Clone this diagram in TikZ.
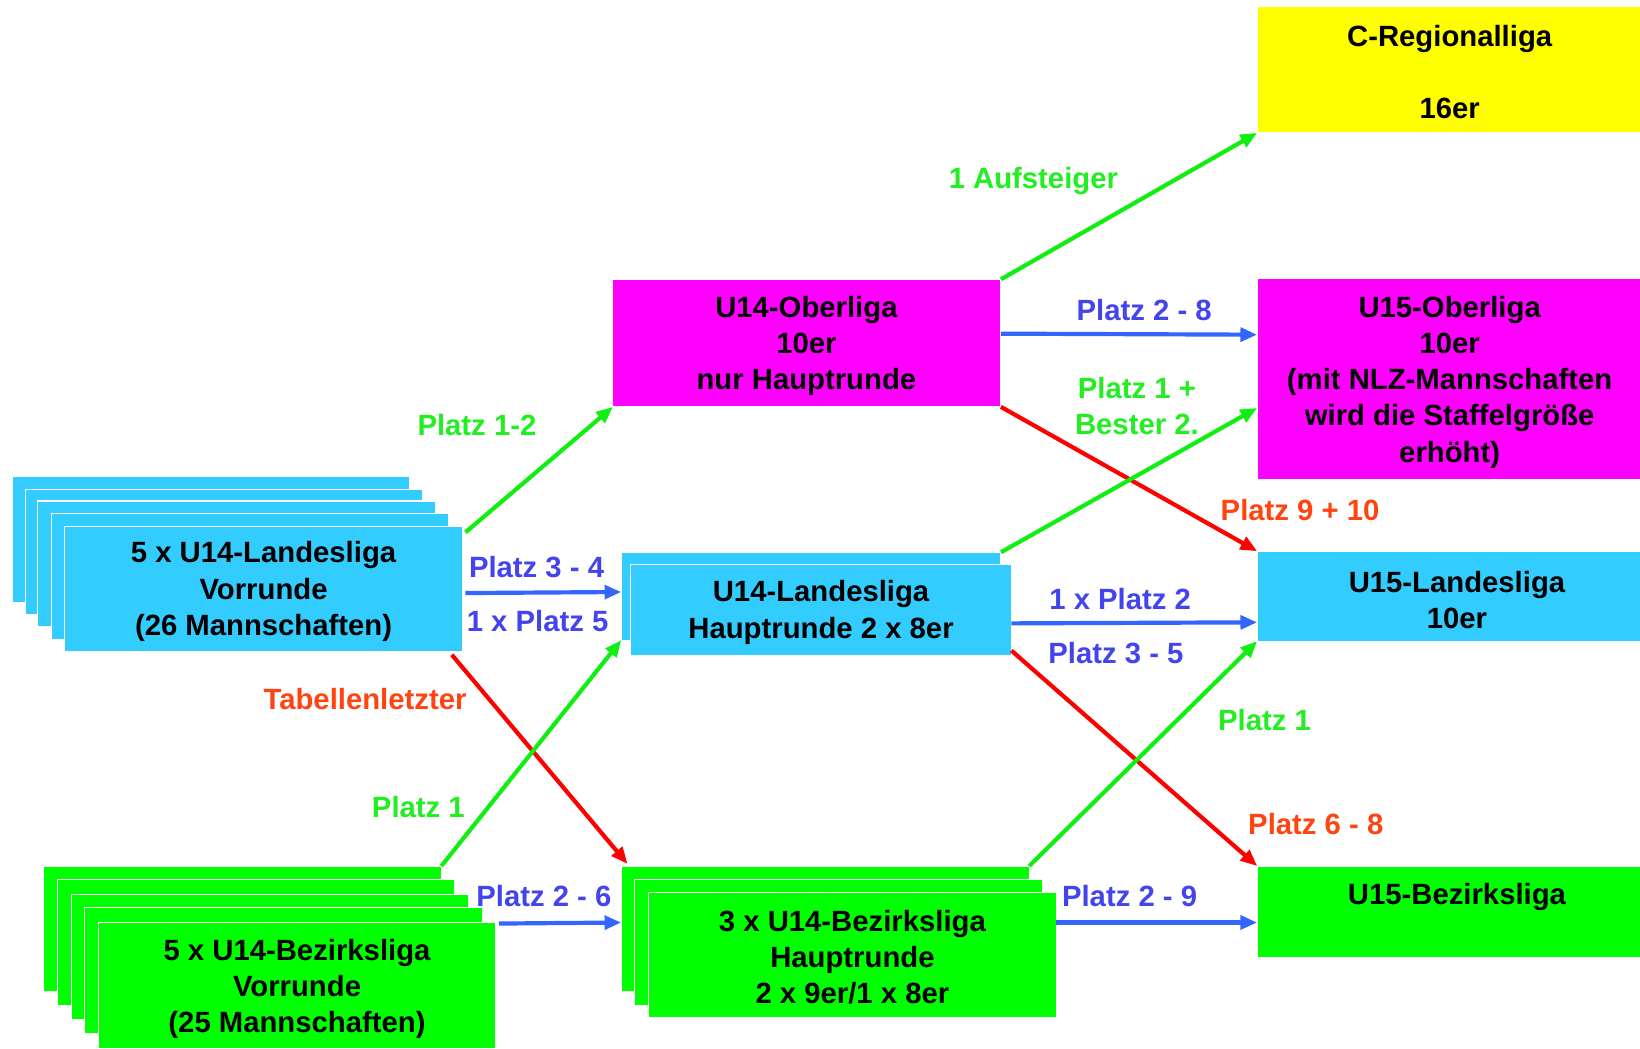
\documentclass[tikz,border=0pt]{standalone}
\usepackage{fontspec}
\setmainfont{Liberation Sans}
\usetikzlibrary{arrows.meta,calc}
\definecolor{cblue}{HTML}{33CCFF}
\definecolor{cgreen}{HTML}{00FF00}
\definecolor{cmag}{HTML}{FF00FF}
\definecolor{cyel}{HTML}{FFFF00}
\definecolor{agreen}{HTML}{11EE11}
\definecolor{ablue}{HTML}{3366FF}
\definecolor{ared}{HTML}{FF0000}
\definecolor{lgreen}{HTML}{22EE22}
\definecolor{lblue}{HTML}{4444EE}
\definecolor{lred}{HTML}{FF4411}
\begin{document}
\begin{tikzpicture}[x=0.5pt,y=-0.5pt,
 box/.style={anchor=north west, inner sep=0, outer sep=0, draw=white, line width=0.5pt},
 txt/.style={align=center, font=\fontsize{14}{17.25}\selectfont\bfseries, inner sep=0, yshift=-1.25pt},
 arr/.style={line width=2pt, -{Triangle[length=8pt,width=6.5pt]}},
]
\useasboundingbox (0,0) rectangle (1568,1002);

% left blue stack
\node[box, fill=cblue, minimum width=190pt, minimum height=60pt] (bl1) at (12,456) {};
\node[box, fill=cblue, minimum width=190pt, minimum height=60pt] (bl2) at (24,468) {};
\node[box, fill=cblue, minimum width=190pt, minimum height=60pt] (bl3) at (36,479) {};
\node[box, fill=cblue, minimum width=190pt, minimum height=60pt] (bl4) at (49,491) {};
\node[box, fill=cblue, minimum width=190pt, minimum height=60pt] (bl5) at (62,503) {};
\node[txt] (tbl) at (252,563) {5 x U14-Landesliga\\Vorrunde\\(26 Mannschaften)};

% left green stack
\node[box, fill=cgreen, minimum width=190pt, minimum height=60pt] (gl1) at (42,828) {};
\node[box, fill=cgreen, minimum width=190pt, minimum height=60pt] (gl2) at (55,841) {};
\node[box, fill=cgreen, minimum width=190pt, minimum height=60pt] (gl3) at (68,855) {};
\node[box, fill=cgreen, minimum width=190pt, minimum height=60pt] (gl4) at (81,868) {};
\node[box, fill=cgreen, minimum width=190pt, minimum height=60pt] (gl5) at (94,882) {};
\node[txt] (tgl) at (284,943) {5 x U14-Bezirksliga\\Vorrunde\\(25 Mannschaften)};

% middle blue stack
\node[box, fill=cblue, minimum width=181.5pt, minimum height=42pt] (bm1) at (594,528) {};
\node[box, fill=cblue, minimum width=182pt, minimum height=43.5pt] (bm2) at (603,540) {};
\node[txt] (tbm) at (785,583) {U14-Landesliga\\Hauptrunde 2 x 8er};

% middle green stack
\node[box, fill=cgreen, minimum width=195pt, minimum height=60pt] (gm1) at (594,828) {};
\node[box, fill=cgreen, minimum width=195pt, minimum height=60pt] (gm2) at (607,841) {};
\node[box, fill=cgreen, minimum width=195pt, minimum height=60pt] (gm3) at (620,853) {};
\node[txt] (tgm) at (815,913) {3 x U14-Bezirksliga\\Hauptrunde\\2 x 9er/1 x 8er};

% U14-Oberliga
\node[box, fill=cmag, minimum width=185.5pt, minimum height=61pt] (obl) at (586,267) {};
\node[txt] (tobl) at (771,328) {U14-Oberliga\\10er\\nur Hauptrunde};

% right column
\node[box, fill=cyel, minimum width=183pt, minimum height=60.5pt] (creg) at (1202,6) {};
\node[txt] (tcreg) at (1386,66) {C-Regionalliga\\[17.25pt]16er};
\node[box, fill=cmag, minimum width=183pt, minimum height=96pt] (u15o) at (1202,266) {};
\node[txt] (tu15o) at (1386,363) {U15-Oberliga\\10er\\(mit NLZ-Mannschaften\\wird die Staffelgröße\\erhöht)};
\node[box, fill=cblue, minimum width=183pt, minimum height=43pt] (u15l) at (1202,527) {};
\node[txt] (tu15l) at (1393,571) {U15-Landesliga\\10er};
\node[box, fill=cgreen, minimum width=183pt, minimum height=43.5pt] (u15b) at (1202,828) {};
\node[txt] (tu15b) at (1393,855) {U15-Bezirksliga};

% arrows right half
\draw[arr, agreen] (obl.north east) -- (creg.south west);
\draw[arr, ablue] ($(obl.east)+(0,-9)$) -- ($(u15o.west)+(0,-42)$);
\draw[arr, ared] (obl.south east) -- (u15l.north west);
\draw[arr, agreen] (bm1.north east) -- ($(u15o.west)+(0,28)$);
\draw[arr, ablue] ($(bm2.east)+(0,12.5)$) -- ($(u15l.west)+(0,25)$);
\draw[arr, ared] ($(bm2.south east)+(0,-5)$) -- (u15b.north west);
\draw[arr, agreen] (gm1.north east) -- (u15l.south west);
\draw[arr, ablue] ($(gm3.east)+(0,-31)$) -- ($(u15b.west)+(0,10.5)$);

% arrows left half
\draw[arr, agreen] ($(bl5.north east)+(3,6)$) -- (obl.south west);
\draw[arr, ablue] ($(bl5.east)+(3,4)$) -- ($(bm1.west)+(0,-4)$);
\draw[arr, ared] ($(bl5.south east)+(-10,3)$) -- ($(gm1.north west)+(6,-2)$);
\draw[arr, agreen] (gl1.north east) -- (bm1.south west);
\draw[arr, ablue] ($(gl5.east)+(3,-59)$) -- ($(gm1.west)+(0,-6)$);

% labels
\node[txt, text=lgreen] (l1) at (988,171) {1 Aufsteiger};
\node[txt, text=lblue] (l2) at (1094,294) {Platz 2 - 8};
\node[txt, text=lgreen] (l3) at (1087,386) {Platz 1 +\\Bester 2.};
\node[txt, text=lred] (l4) at (1243,485) {Platz 9 + 10};
\node[txt, text=lblue] (l5) at (1071,570) {1 x Platz 2};
\node[txt, text=lblue] (l6) at (1067,622) {Platz 3 - 5};
\node[txt, text=lgreen] (l7) at (1209,686) {Platz 1};
\node[txt, text=lred] (l8) at (1258,785) {Platz 6 - 8};
\node[txt, text=lblue] (l9) at (1080,854) {Platz 2 - 9};
\node[txt, text=lgreen] (l10) at (456,404) {Platz 1-2};
\node[txt, text=lblue] (l11) at (513,540) {Platz 3 - 4};
\node[txt, text=lblue] (l12) at (514,591) {1 x Platz 5};
\node[txt, text=lred] (l13) at (349,666) {Tabellenletzter};
\node[txt, text=lgreen] (l14) at (400,769) {Platz 1};
\node[txt, text=lblue] (l15) at (520,854) {Platz 2 - 6};
\end{tikzpicture}
\end{document}
